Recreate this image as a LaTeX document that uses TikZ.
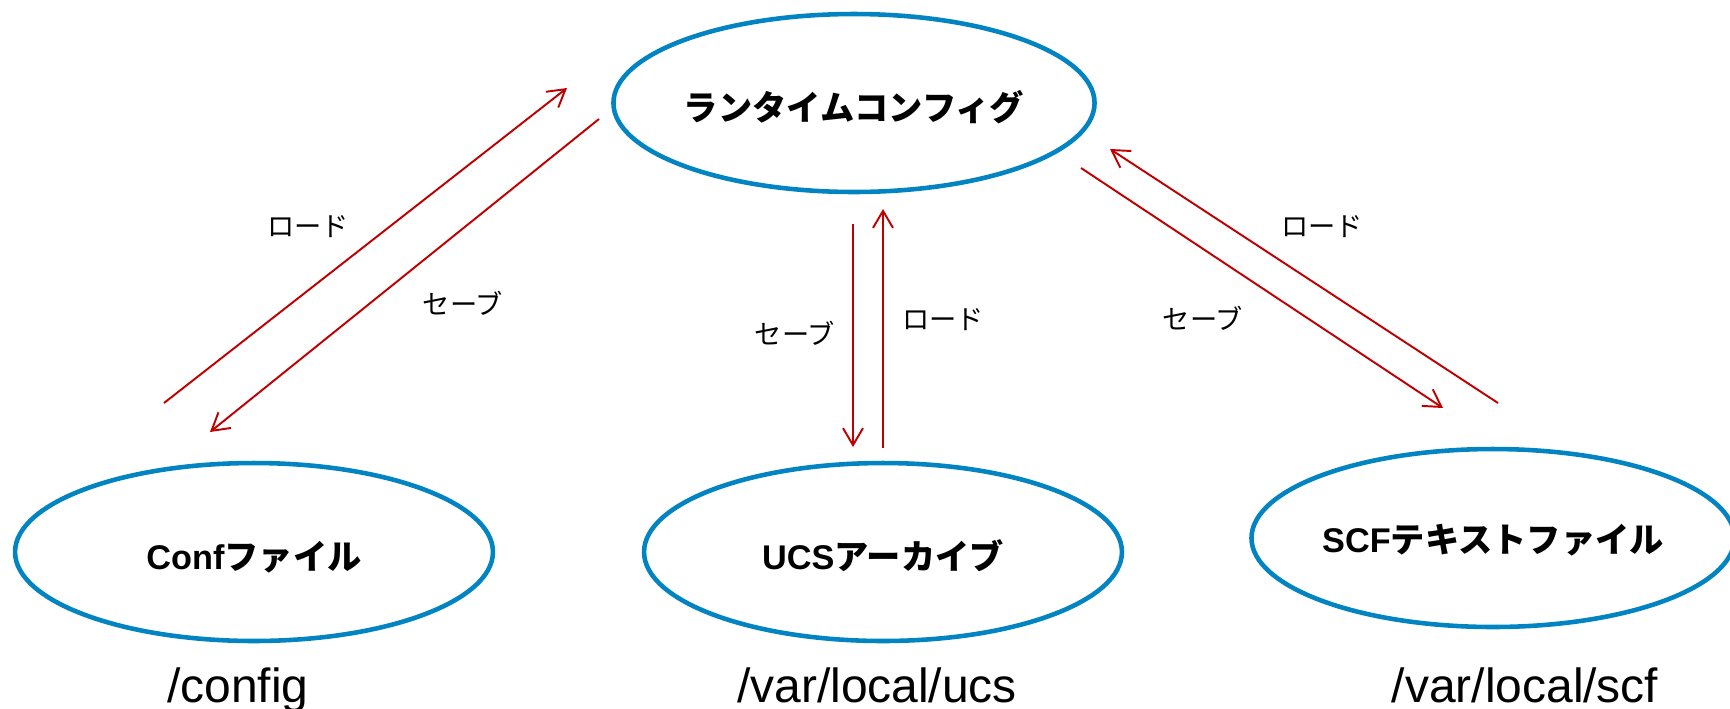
\documentclass[tikz,border=0pt]{standalone}
\usepackage{fontspec}
\setmainfont{Liberation Sans}
\newfontfamily\jp{Noto Sans CJK JP}
\usetikzlibrary{shapes.geometric, arrows.meta}
\definecolor{ellblue}{HTML}{0284C2}
\definecolor{arrowred}{HTML}{C00000}

\begin{document}
\begin{tikzpicture}[
    x=0.02cm, y=-0.02cm,
    store/.style={ellipse, draw=ellblue, line width=2.6pt, minimum width=9.56cm, minimum height=3.56cm, inner sep=0pt, text height=23pt, text depth=3pt, font=\fontsize{19.5}{22}\selectfont\bfseries},
    arrow/.style={-{Straight Barb[length=0.34cm, width=0.4cm]}, draw=arrowred, line width=1.1pt},
    action/.style={font=\jp\fontsize{15.5}{18}\selectfont},
    dirname/.style={anchor=base, font=\fontsize{27.3}{30}\selectfont}
]
    \useasboundingbox (0,0) rectangle (1730,708);

    % Storage nodes
    \node[store] (runtime) at (854,103) {\jp ランタイムコンフィグ};
    \node[store] (conf) at (254,552) {Conf{\jp ファイル}};
    \node[store] (ucs) at (883,552) {UCS{\jp アーカイブ}};
    \node[store, minimum width=9.32cm, text height=20pt] (scf) at (1493,538) {SCF{\jp テキストファイル}};

    % Directory paths
    \node[dirname] (confdir) at (238,702) {/config};
    \node[dirname] (ucsdir) at (877,702) {/var/local/ucs};
    \node[dirname] (scfdir) at (1525,702) {/var/local/scf};

    % Arrow end points
    \coordinate (conf-load-a) at (164,403);
    \coordinate (conf-load-b) at (567,88);
    \coordinate (conf-save-a) at (599,119);
    \coordinate (conf-save-b) at (210,432);
    \coordinate (ucs-save-a) at (853,224);
    \coordinate (ucs-save-b) at (853,447);
    \coordinate (ucs-load-a) at (883,448);
    \coordinate (ucs-load-b) at (883,209);
    \coordinate (scf-load-a) at (1498,403);
    \coordinate (scf-load-b) at (1110,149);
    \coordinate (scf-save-a) at (1081,168);
    \coordinate (scf-save-b) at (1443,408);

    % Arrows - Conf file
    \draw[arrow] (conf-load-a) -- (conf-load-b);
    \draw[arrow] (conf-save-a) -- (conf-save-b);

    % Arrows - UCS archive
    \draw[arrow] (ucs-save-a) -- (ucs-save-b);
    \draw[arrow] (ucs-load-a) -- (ucs-load-b);

    % Arrows - SCF text file
    \draw[arrow] (scf-load-a) -- (scf-load-b);
    \draw[arrow] (scf-save-a) -- (scf-save-b);

    % Arrow labels
    \node[action] (conf-load) at (308,227) {ロード};
    \node[action] (conf-save) at (463,303) {セーブ};
    \node[action] (ucs-save) at (795,333) {セーブ};
    \node[action] (ucs-load) at (943,320) {ロード};
    \node[action] (scf-load) at (1322,227) {ロード};
    \node[action] (scf-save) at (1203,318) {セーブ};

\end{tikzpicture}
\end{document}
